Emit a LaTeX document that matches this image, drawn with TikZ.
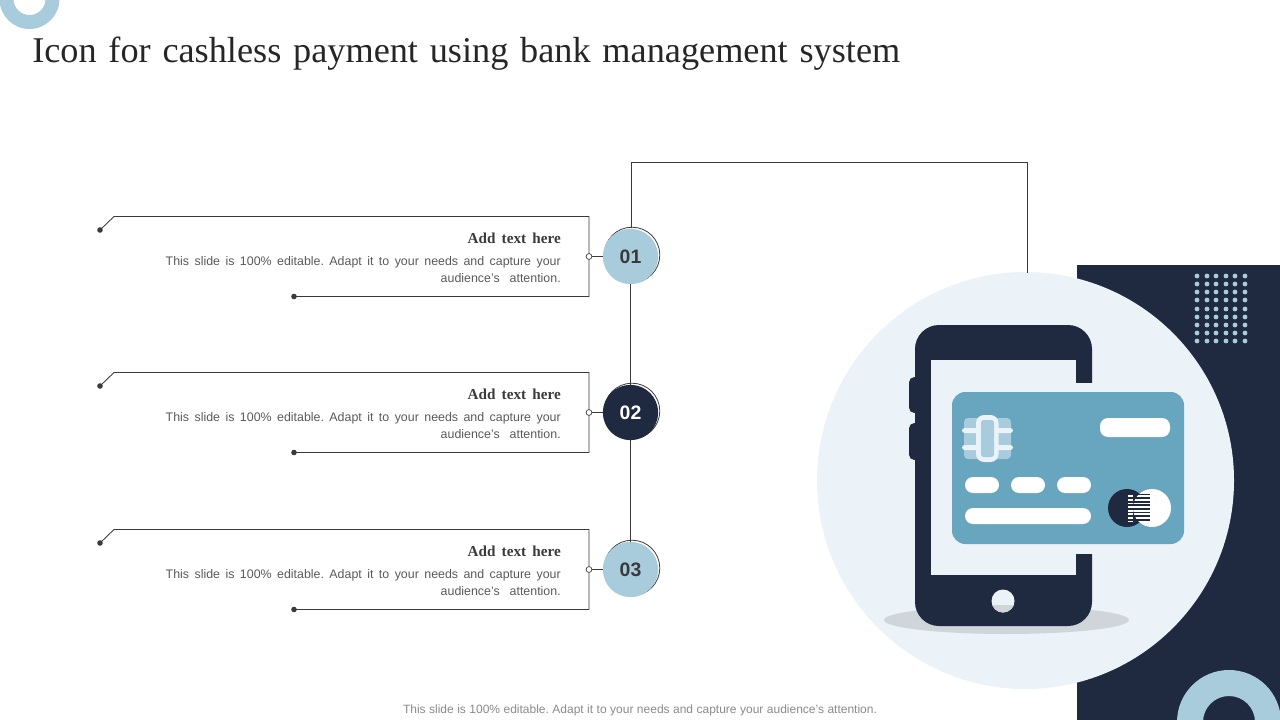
\documentclass[tikz,border=0pt]{standalone}
\usepackage{fontspec}
\setmainfont{Liberation Serif}
\setsansfont{Liberation Sans}
\definecolor{navy}{HTML}{1F2A40}
\definecolor{pale}{HTML}{A9CCDC}
\definecolor{mist}{HTML}{EBF3F8}
\definecolor{cardblue}{HTML}{68A5BF}
\definecolor{shadowgray}{HTML}{D0D5D9}
\definecolor{ink}{HTML}{3A3A3A}
\definecolor{titleink}{HTML}{262626}
\definecolor{bodygray}{HTML}{595959}
\definecolor{footgray}{HTML}{8A8A8A}
\newcommand{\fitw}[2]{\makebox[#1\dimexpr0.75pt\relax][s]{\frenchspacing #2}}
\tikzset{
  x=0.75pt,y=-0.75pt,
  rule/.style={draw=ink,line width=0.65pt},
  enddot/.style={circle,fill=ink,inner sep=0pt,minimum size=4.2pt},
  portdot/.style={circle,draw=ink,fill=white,line width=0.5pt,inner sep=0pt,minimum size=4.4pt},
  numdisc/.style={circle,inner sep=0pt,minimum size=41.5pt,font=\sffamily\bfseries\fontsize{14.6}{15}\selectfont},
  headtext/.style={anchor=east,inner sep=0pt,font=\rmfamily\bfseries\fontsize{11.4}{12}\selectfont,text=ink},
  bodytext/.style={anchor=east,inner sep=0pt,font=\sffamily\fontsize{9.3}{10}\selectfont,text=bodygray},
  pill/.style={fill=white,rounded corners=6pt},
}
\begin{document}
\begin{tikzpicture}
\useasboundingbox (0,0) rectangle (1280,720);
% decorations behind
\fill[pale,even odd rule] (29.5,-1) circle[radius=30] (29.5,-1) circle[radius=16];
\fill[navy] (1077,265) rectangle (1280,720);
\fill[mist] (1025.5,480.5) circle[radius=208.5];
\begin{scope}
\clip (1077,265) rectangle (1280,720);
\fill[pale,even odd rule] (1229,722) circle[radius=52] (1229,722) circle[radius=26];
\end{scope}
\foreach \yy in {276,284,292,300,309,317,325,333,341}
  \foreach \xx in {1197,1207,1216,1226,1235,1245}
    \fill[pale] (\xx,\yy) circle[radius=2.4];
% title and footer
\node[anchor=west,inner sep=0pt,text=titleink] (title) at (32,54) {\fitw{868}{\fontsize{27.2}{30}\selectfont Icon for cashless payment using bank management system}};
\node[anchor=center,inner sep=0pt,text=footgray,font=\sffamily\fontsize{9}{10}\selectfont] (foot) at (640,710.5) {\fitw{474}{This slide is 100\% editable. Adapt it to your needs and capture your audience's attention.}};
% number discs
\foreach \nm/\cy/\fc/\tc/\lab in {a/256/pale/ink/01,b/412/navy/white/02,c/569/pale/ink/03}{
  \draw[ink,line width=0.6pt] (632,\cy-1) circle[radius=27.8];
  \node[numdisc,fill=\fc,text=\tc] (disc\nm) at (630.5,\cy+0.5) {\lab};
}
% connectors
\coordinate (topA) at (631.5,228);
\coordinate (topB) at (631.5,162.5);
\coordinate (topC) at (1027.5,162.5);
\coordinate (topD) at (1027.5,272.5);
\draw[rule] (topA) -- (topB) -- (topC) -- (topD);
\draw[rule] (disca) -- (discb);
\draw[rule] (discb) -- (discc);
% rows
\foreach \nm/\dy in {a/0,b/156,c/313}{
  \begin{scope}[yshift=-0.75*\dy pt]
    \node[enddot] (l\nm) at (100,230) {};
    \node[enddot] (r\nm) at (294,296.5) {};
    \coordinate (k\nm) at (114,216.5);
    \coordinate (m\nm) at (589,216.5);
    \coordinate (n\nm) at (589,296.5);
    \draw[rule] (l\nm.center) -- (k\nm) -- (m\nm) -- (n\nm) -- (r\nm.center);
    \node[portdot] (p\nm) at (589,256.5) {};
    \node[headtext] (h\nm) at (561,238) {\fitw{93}{Add text here}};
    \node[bodytext] (ba\nm) at (561,262.5) {\fitw{395}{This slide is 100\% editable. Adapt it to your needs and capture your}};
    \node[bodytext] (bb\nm) at (561,278) {\fitw{120}{audience's attention.}};
    \coordinate (q\nm) at (603,256.5);
    \draw[rule] (p\nm) -- (q\nm);
  \end{scope}
}
% shadow
\fill[shadowgray] (1006.5,620) ellipse[x radius=122.5,y radius=14];
% phone
\fill[navy,rounded corners=4pt] (909,377) rectangle (920,413);
\fill[navy,rounded corners=4pt] (909,423) rectangle (920,460);
\fill[navy,rounded corners=18pt] (915,325) rectangle (1092,626);
\fill[mist] (931,360) rectangle (1076,575);
\fill[mist] (1070,383) rectangle (1093,554);
\fill[mist] (1003,601) circle[radius=11.5];
\begin{scope}
\clip (1003,601) circle[radius=11.5];
\fill[shadowgray] (990,605) rectangle (1016,614);
\end{scope}
% card
\fill[cardblue,rounded corners=10pt] (952,392) rectangle (1184,544);
\fill[pale,rounded corners=3pt] (964,418) rectangle (1011,459);
\fill[mist,rounded corners=2pt] (962,428) rectangle (1013,433);
\fill[mist,rounded corners=2pt] (962,445) rectangle (1013,450);
\fill[mist,rounded corners=6pt] (976,415) rectangle (998.5,462);
\fill[pale,rounded corners=2pt] (981,420) rectangle (994,457);
\fill[pill] (1100,418) rectangle (1170,437);
\fill[pill] (965,477) rectangle (999,493);
\fill[pill] (1011,477) rectangle (1045,493);
\fill[pill] (1057,477) rectangle (1091,493);
\fill[pill] (965,508) rectangle (1091,524);
\fill[navy] (1127,508) circle[radius=19];
\fill[white] (1152,508) circle[radius=19];
\foreach \yy in {494.5,498.1,501.7,505.3,508.9,512.5,516.1,519.7}{
  \fill[navy] (1133,\yy-0.9) rectangle (1150,\yy+0.9);
  \fill[white] (1128,\yy+0.9) rectangle (1133,\yy+2.7);
}
\end{tikzpicture}
\end{document}
